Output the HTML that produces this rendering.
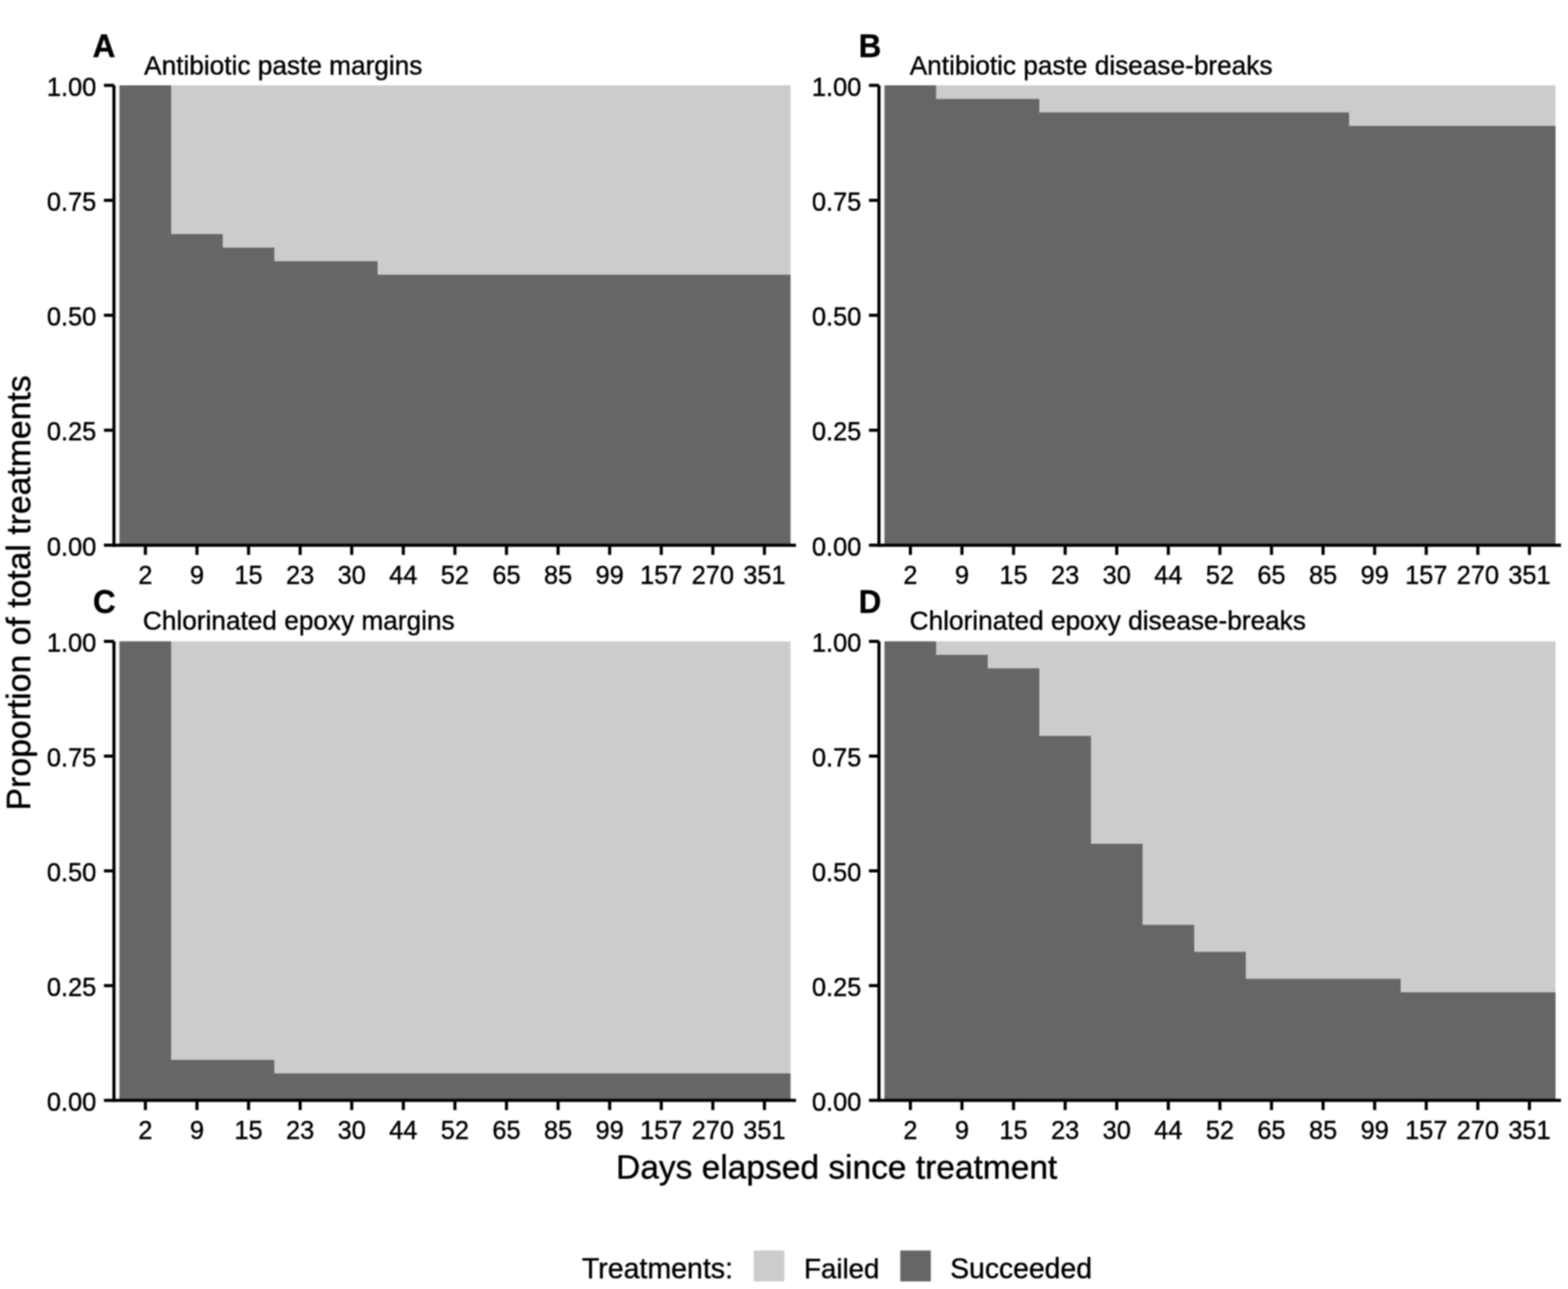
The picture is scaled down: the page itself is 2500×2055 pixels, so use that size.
<!DOCTYPE html>
<html><head><meta charset="utf-8"><title>Treatment outcomes</title>
<style>
html,body{margin:0;padding:0;background:#fff;}
body{width:2500px;height:2055px;overflow:hidden;}
svg{display:block;}
#w{filter:blur(1px);width:2500px;height:2055px;}
text{font-family:"Liberation Sans",Arial,sans-serif;fill:#000;stroke:#000;stroke-width:0.6px;}
.t{font-size:40.5px;}
.pt{font-size:41.8px;}
.at{font-size:53.4px;}
.lg{font-size:45.5px;}
.lt{font-size:50px;font-weight:bold;}
</style></head>
<body>
<div id="w">
<svg width="2500" height="2055" viewBox="0 0 2500 2055">
<rect width="2500" height="2055" fill="#fff"/>
<rect x="190.5" y="136.1" width="1069.9" height="733.05" fill="#cccccc"/>
<path d="M190.5,869.15 L190.5,136.1 L272.8,136.1 L272.8,373.26 L355.1,373.26 L355.1,394.82 L437.4,394.82 L437.4,416.38 L519.7,416.38 L519.7,416.38 L602,416.38 L602,437.94 L684.3,437.94 L684.3,437.94 L766.6,437.94 L766.6,437.94 L848.9,437.94 L848.9,437.94 L931.2,437.94 L931.2,437.94 L1013.5,437.94 L1013.5,437.94 L1095.8,437.94 L1095.8,437.94 L1178.1,437.94 L1178.1,437.94 L1260.4,437.94 L1260.4,869.15 Z" fill="#666666"/>
<line x1="181.7" y1="136.1" x2="181.7" y2="871.65" stroke="#000" stroke-width="5.0"/>
<line x1="179.2" y1="869.15" x2="1269.2" y2="869.15" stroke="#000" stroke-width="5.0"/>
<line x1="165.7" y1="136.1" x2="181.7" y2="136.1" stroke="#000" stroke-width="5.0"/>
<text transform="translate(153.5,152.5) scale(1,1.03)" class="t" text-anchor="end">1.00</text>
<line x1="165.7" y1="319.36" x2="181.7" y2="319.36" stroke="#000" stroke-width="5.0"/>
<text transform="translate(153.5,335.76) scale(1,1.03)" class="t" text-anchor="end">0.75</text>
<line x1="165.7" y1="502.62" x2="181.7" y2="502.62" stroke="#000" stroke-width="5.0"/>
<text transform="translate(153.5,519.02) scale(1,1.03)" class="t" text-anchor="end">0.50</text>
<line x1="165.7" y1="685.89" x2="181.7" y2="685.89" stroke="#000" stroke-width="5.0"/>
<text transform="translate(153.5,702.29) scale(1,1.03)" class="t" text-anchor="end">0.25</text>
<line x1="165.7" y1="869.15" x2="181.7" y2="869.15" stroke="#000" stroke-width="5.0"/>
<text transform="translate(153.5,885.55) scale(1,1.03)" class="t" text-anchor="end">0.00</text>
<line x1="231.8" y1="869.15" x2="231.8" y2="884.65" stroke="#000" stroke-width="5.0"/>
<text transform="translate(231.8,931) scale(1,1.03)" class="t" text-anchor="middle">2</text>
<line x1="314.05" y1="869.15" x2="314.05" y2="884.65" stroke="#000" stroke-width="5.0"/>
<text transform="translate(314.05,931) scale(1,1.03)" class="t" text-anchor="middle">9</text>
<line x1="396.3" y1="869.15" x2="396.3" y2="884.65" stroke="#000" stroke-width="5.0"/>
<text transform="translate(396.3,931) scale(1,1.03)" class="t" text-anchor="middle">15</text>
<line x1="478.55" y1="869.15" x2="478.55" y2="884.65" stroke="#000" stroke-width="5.0"/>
<text transform="translate(478.55,931) scale(1,1.03)" class="t" text-anchor="middle">23</text>
<line x1="560.8" y1="869.15" x2="560.8" y2="884.65" stroke="#000" stroke-width="5.0"/>
<text transform="translate(560.8,931) scale(1,1.03)" class="t" text-anchor="middle">30</text>
<line x1="643.05" y1="869.15" x2="643.05" y2="884.65" stroke="#000" stroke-width="5.0"/>
<text transform="translate(643.05,931) scale(1,1.03)" class="t" text-anchor="middle">44</text>
<line x1="725.3" y1="869.15" x2="725.3" y2="884.65" stroke="#000" stroke-width="5.0"/>
<text transform="translate(725.3,931) scale(1,1.03)" class="t" text-anchor="middle">52</text>
<line x1="807.55" y1="869.15" x2="807.55" y2="884.65" stroke="#000" stroke-width="5.0"/>
<text transform="translate(807.55,931) scale(1,1.03)" class="t" text-anchor="middle">65</text>
<line x1="889.8" y1="869.15" x2="889.8" y2="884.65" stroke="#000" stroke-width="5.0"/>
<text transform="translate(889.8,931) scale(1,1.03)" class="t" text-anchor="middle">85</text>
<line x1="972.05" y1="869.15" x2="972.05" y2="884.65" stroke="#000" stroke-width="5.0"/>
<text transform="translate(972.05,931) scale(1,1.03)" class="t" text-anchor="middle">99</text>
<line x1="1054.3" y1="869.15" x2="1054.3" y2="884.65" stroke="#000" stroke-width="5.0"/>
<text transform="translate(1054.3,931) scale(1,1.03)" class="t" text-anchor="middle">157</text>
<line x1="1136.55" y1="869.15" x2="1136.55" y2="884.65" stroke="#000" stroke-width="5.0"/>
<text transform="translate(1136.55,931) scale(1,1.03)" class="t" text-anchor="middle">270</text>
<line x1="1218.8" y1="869.15" x2="1218.8" y2="884.65" stroke="#000" stroke-width="5.0"/>
<text transform="translate(1218.8,931) scale(1,1.03)" class="t" text-anchor="middle">351</text>
<text transform="translate(229.8,118.6) scale(1,1.03)" class="pt">Antibiotic paste margins</text>
<text transform="translate(147.8,90.6) scale(1,1.045)" class="lt">A</text>
<rect x="1410.2" y="136.1" width="1069.9" height="733.05" fill="#cccccc"/>
<path d="M1410.2,869.15 L1410.2,136.1 L1492.5,136.1 L1492.5,157.66 L1574.8,157.66 L1574.8,157.66 L1657.1,157.66 L1657.1,179.22 L1739.4,179.22 L1739.4,179.22 L1821.7,179.22 L1821.7,179.22 L1904,179.22 L1904,179.22 L1986.3,179.22 L1986.3,179.22 L2068.6,179.22 L2068.6,179.22 L2150.9,179.22 L2150.9,200.78 L2233.2,200.78 L2233.2,200.78 L2315.5,200.78 L2315.5,200.78 L2397.8,200.78 L2397.8,200.78 L2480.1,200.78 L2480.1,869.15 Z" fill="#666666"/>
<line x1="1401.4" y1="136.1" x2="1401.4" y2="871.65" stroke="#000" stroke-width="5.0"/>
<line x1="1398.9" y1="869.15" x2="2488.9" y2="869.15" stroke="#000" stroke-width="5.0"/>
<line x1="1385.4" y1="136.1" x2="1401.4" y2="136.1" stroke="#000" stroke-width="5.0"/>
<text transform="translate(1373.2,152.5) scale(1,1.03)" class="t" text-anchor="end">1.00</text>
<line x1="1385.4" y1="319.36" x2="1401.4" y2="319.36" stroke="#000" stroke-width="5.0"/>
<text transform="translate(1373.2,335.76) scale(1,1.03)" class="t" text-anchor="end">0.75</text>
<line x1="1385.4" y1="502.62" x2="1401.4" y2="502.62" stroke="#000" stroke-width="5.0"/>
<text transform="translate(1373.2,519.02) scale(1,1.03)" class="t" text-anchor="end">0.50</text>
<line x1="1385.4" y1="685.89" x2="1401.4" y2="685.89" stroke="#000" stroke-width="5.0"/>
<text transform="translate(1373.2,702.29) scale(1,1.03)" class="t" text-anchor="end">0.25</text>
<line x1="1385.4" y1="869.15" x2="1401.4" y2="869.15" stroke="#000" stroke-width="5.0"/>
<text transform="translate(1373.2,885.55) scale(1,1.03)" class="t" text-anchor="end">0.00</text>
<line x1="1451.5" y1="869.15" x2="1451.5" y2="884.65" stroke="#000" stroke-width="5.0"/>
<text transform="translate(1451.5,931) scale(1,1.03)" class="t" text-anchor="middle">2</text>
<line x1="1533.75" y1="869.15" x2="1533.75" y2="884.65" stroke="#000" stroke-width="5.0"/>
<text transform="translate(1533.75,931) scale(1,1.03)" class="t" text-anchor="middle">9</text>
<line x1="1616" y1="869.15" x2="1616" y2="884.65" stroke="#000" stroke-width="5.0"/>
<text transform="translate(1616,931) scale(1,1.03)" class="t" text-anchor="middle">15</text>
<line x1="1698.25" y1="869.15" x2="1698.25" y2="884.65" stroke="#000" stroke-width="5.0"/>
<text transform="translate(1698.25,931) scale(1,1.03)" class="t" text-anchor="middle">23</text>
<line x1="1780.5" y1="869.15" x2="1780.5" y2="884.65" stroke="#000" stroke-width="5.0"/>
<text transform="translate(1780.5,931) scale(1,1.03)" class="t" text-anchor="middle">30</text>
<line x1="1862.75" y1="869.15" x2="1862.75" y2="884.65" stroke="#000" stroke-width="5.0"/>
<text transform="translate(1862.75,931) scale(1,1.03)" class="t" text-anchor="middle">44</text>
<line x1="1945" y1="869.15" x2="1945" y2="884.65" stroke="#000" stroke-width="5.0"/>
<text transform="translate(1945,931) scale(1,1.03)" class="t" text-anchor="middle">52</text>
<line x1="2027.25" y1="869.15" x2="2027.25" y2="884.65" stroke="#000" stroke-width="5.0"/>
<text transform="translate(2027.25,931) scale(1,1.03)" class="t" text-anchor="middle">65</text>
<line x1="2109.5" y1="869.15" x2="2109.5" y2="884.65" stroke="#000" stroke-width="5.0"/>
<text transform="translate(2109.5,931) scale(1,1.03)" class="t" text-anchor="middle">85</text>
<line x1="2191.75" y1="869.15" x2="2191.75" y2="884.65" stroke="#000" stroke-width="5.0"/>
<text transform="translate(2191.75,931) scale(1,1.03)" class="t" text-anchor="middle">99</text>
<line x1="2274" y1="869.15" x2="2274" y2="884.65" stroke="#000" stroke-width="5.0"/>
<text transform="translate(2274,931) scale(1,1.03)" class="t" text-anchor="middle">157</text>
<line x1="2356.25" y1="869.15" x2="2356.25" y2="884.65" stroke="#000" stroke-width="5.0"/>
<text transform="translate(2356.25,931) scale(1,1.03)" class="t" text-anchor="middle">270</text>
<line x1="2438.5" y1="869.15" x2="2438.5" y2="884.65" stroke="#000" stroke-width="5.0"/>
<text transform="translate(2438.5,931) scale(1,1.03)" class="t" text-anchor="middle">351</text>
<text transform="translate(1450.4,118.6) scale(1,1.03)" class="pt">Antibiotic paste disease-breaks</text>
<text transform="translate(1369,90.75) scale(1,1.045)" class="lt">B</text>
<rect x="190.5" y="1022.5" width="1069.9" height="731.75" fill="#cccccc"/>
<path d="M190.5,1754.25 L190.5,1022.5 L272.8,1022.5 L272.8,1689.68 L355.1,1689.68 L355.1,1689.68 L437.4,1689.68 L437.4,1711.21 L519.7,1711.21 L519.7,1711.21 L602,1711.21 L602,1711.21 L684.3,1711.21 L684.3,1711.21 L766.6,1711.21 L766.6,1711.21 L848.9,1711.21 L848.9,1711.21 L931.2,1711.21 L931.2,1711.21 L1013.5,1711.21 L1013.5,1711.21 L1095.8,1711.21 L1095.8,1711.21 L1178.1,1711.21 L1178.1,1711.21 L1260.4,1711.21 L1260.4,1754.25 Z" fill="#666666"/>
<line x1="181.7" y1="1022.5" x2="181.7" y2="1756.75" stroke="#000" stroke-width="5.0"/>
<line x1="179.2" y1="1754.25" x2="1269.2" y2="1754.25" stroke="#000" stroke-width="5.0"/>
<line x1="165.7" y1="1022.5" x2="181.7" y2="1022.5" stroke="#000" stroke-width="5.0"/>
<text transform="translate(153.5,1038.9) scale(1,1.03)" class="t" text-anchor="end">1.00</text>
<line x1="165.7" y1="1205.44" x2="181.7" y2="1205.44" stroke="#000" stroke-width="5.0"/>
<text transform="translate(153.5,1221.84) scale(1,1.03)" class="t" text-anchor="end">0.75</text>
<line x1="165.7" y1="1388.38" x2="181.7" y2="1388.38" stroke="#000" stroke-width="5.0"/>
<text transform="translate(153.5,1404.78) scale(1,1.03)" class="t" text-anchor="end">0.50</text>
<line x1="165.7" y1="1571.31" x2="181.7" y2="1571.31" stroke="#000" stroke-width="5.0"/>
<text transform="translate(153.5,1587.71) scale(1,1.03)" class="t" text-anchor="end">0.25</text>
<line x1="165.7" y1="1754.25" x2="181.7" y2="1754.25" stroke="#000" stroke-width="5.0"/>
<text transform="translate(153.5,1770.65) scale(1,1.03)" class="t" text-anchor="end">0.00</text>
<line x1="231.8" y1="1754.25" x2="231.8" y2="1769.75" stroke="#000" stroke-width="5.0"/>
<text transform="translate(231.8,1816.1) scale(1,1.03)" class="t" text-anchor="middle">2</text>
<line x1="314.05" y1="1754.25" x2="314.05" y2="1769.75" stroke="#000" stroke-width="5.0"/>
<text transform="translate(314.05,1816.1) scale(1,1.03)" class="t" text-anchor="middle">9</text>
<line x1="396.3" y1="1754.25" x2="396.3" y2="1769.75" stroke="#000" stroke-width="5.0"/>
<text transform="translate(396.3,1816.1) scale(1,1.03)" class="t" text-anchor="middle">15</text>
<line x1="478.55" y1="1754.25" x2="478.55" y2="1769.75" stroke="#000" stroke-width="5.0"/>
<text transform="translate(478.55,1816.1) scale(1,1.03)" class="t" text-anchor="middle">23</text>
<line x1="560.8" y1="1754.25" x2="560.8" y2="1769.75" stroke="#000" stroke-width="5.0"/>
<text transform="translate(560.8,1816.1) scale(1,1.03)" class="t" text-anchor="middle">30</text>
<line x1="643.05" y1="1754.25" x2="643.05" y2="1769.75" stroke="#000" stroke-width="5.0"/>
<text transform="translate(643.05,1816.1) scale(1,1.03)" class="t" text-anchor="middle">44</text>
<line x1="725.3" y1="1754.25" x2="725.3" y2="1769.75" stroke="#000" stroke-width="5.0"/>
<text transform="translate(725.3,1816.1) scale(1,1.03)" class="t" text-anchor="middle">52</text>
<line x1="807.55" y1="1754.25" x2="807.55" y2="1769.75" stroke="#000" stroke-width="5.0"/>
<text transform="translate(807.55,1816.1) scale(1,1.03)" class="t" text-anchor="middle">65</text>
<line x1="889.8" y1="1754.25" x2="889.8" y2="1769.75" stroke="#000" stroke-width="5.0"/>
<text transform="translate(889.8,1816.1) scale(1,1.03)" class="t" text-anchor="middle">85</text>
<line x1="972.05" y1="1754.25" x2="972.05" y2="1769.75" stroke="#000" stroke-width="5.0"/>
<text transform="translate(972.05,1816.1) scale(1,1.03)" class="t" text-anchor="middle">99</text>
<line x1="1054.3" y1="1754.25" x2="1054.3" y2="1769.75" stroke="#000" stroke-width="5.0"/>
<text transform="translate(1054.3,1816.1) scale(1,1.03)" class="t" text-anchor="middle">157</text>
<line x1="1136.55" y1="1754.25" x2="1136.55" y2="1769.75" stroke="#000" stroke-width="5.0"/>
<text transform="translate(1136.55,1816.1) scale(1,1.03)" class="t" text-anchor="middle">270</text>
<line x1="1218.8" y1="1754.25" x2="1218.8" y2="1769.75" stroke="#000" stroke-width="5.0"/>
<text transform="translate(1218.8,1816.1) scale(1,1.03)" class="t" text-anchor="middle">351</text>
<text transform="translate(227.8,1003.7) scale(1,1.03)" class="pt">Chlorinated epoxy margins</text>
<text transform="translate(148.2,976.6) scale(1,1.045)" class="lt">C</text>
<rect x="1410.2" y="1022.5" width="1069.9" height="731.75" fill="#cccccc"/>
<path d="M1410.2,1754.25 L1410.2,1022.5 L1492.5,1022.5 L1492.5,1044.02 L1574.8,1044.02 L1574.8,1065.54 L1657.1,1065.54 L1657.1,1173.15 L1739.4,1173.15 L1739.4,1345.33 L1821.7,1345.33 L1821.7,1474.46 L1904,1474.46 L1904,1517.51 L1986.3,1517.51 L1986.3,1560.55 L2068.6,1560.55 L2068.6,1560.55 L2150.9,1560.55 L2150.9,1560.55 L2233.2,1560.55 L2233.2,1582.07 L2315.5,1582.07 L2315.5,1582.07 L2397.8,1582.07 L2397.8,1582.07 L2480.1,1582.07 L2480.1,1754.25 Z" fill="#666666"/>
<line x1="1401.4" y1="1022.5" x2="1401.4" y2="1756.75" stroke="#000" stroke-width="5.0"/>
<line x1="1398.9" y1="1754.25" x2="2488.9" y2="1754.25" stroke="#000" stroke-width="5.0"/>
<line x1="1385.4" y1="1022.5" x2="1401.4" y2="1022.5" stroke="#000" stroke-width="5.0"/>
<text transform="translate(1373.2,1038.9) scale(1,1.03)" class="t" text-anchor="end">1.00</text>
<line x1="1385.4" y1="1205.44" x2="1401.4" y2="1205.44" stroke="#000" stroke-width="5.0"/>
<text transform="translate(1373.2,1221.84) scale(1,1.03)" class="t" text-anchor="end">0.75</text>
<line x1="1385.4" y1="1388.38" x2="1401.4" y2="1388.38" stroke="#000" stroke-width="5.0"/>
<text transform="translate(1373.2,1404.78) scale(1,1.03)" class="t" text-anchor="end">0.50</text>
<line x1="1385.4" y1="1571.31" x2="1401.4" y2="1571.31" stroke="#000" stroke-width="5.0"/>
<text transform="translate(1373.2,1587.71) scale(1,1.03)" class="t" text-anchor="end">0.25</text>
<line x1="1385.4" y1="1754.25" x2="1401.4" y2="1754.25" stroke="#000" stroke-width="5.0"/>
<text transform="translate(1373.2,1770.65) scale(1,1.03)" class="t" text-anchor="end">0.00</text>
<line x1="1451.5" y1="1754.25" x2="1451.5" y2="1769.75" stroke="#000" stroke-width="5.0"/>
<text transform="translate(1451.5,1816.1) scale(1,1.03)" class="t" text-anchor="middle">2</text>
<line x1="1533.75" y1="1754.25" x2="1533.75" y2="1769.75" stroke="#000" stroke-width="5.0"/>
<text transform="translate(1533.75,1816.1) scale(1,1.03)" class="t" text-anchor="middle">9</text>
<line x1="1616" y1="1754.25" x2="1616" y2="1769.75" stroke="#000" stroke-width="5.0"/>
<text transform="translate(1616,1816.1) scale(1,1.03)" class="t" text-anchor="middle">15</text>
<line x1="1698.25" y1="1754.25" x2="1698.25" y2="1769.75" stroke="#000" stroke-width="5.0"/>
<text transform="translate(1698.25,1816.1) scale(1,1.03)" class="t" text-anchor="middle">23</text>
<line x1="1780.5" y1="1754.25" x2="1780.5" y2="1769.75" stroke="#000" stroke-width="5.0"/>
<text transform="translate(1780.5,1816.1) scale(1,1.03)" class="t" text-anchor="middle">30</text>
<line x1="1862.75" y1="1754.25" x2="1862.75" y2="1769.75" stroke="#000" stroke-width="5.0"/>
<text transform="translate(1862.75,1816.1) scale(1,1.03)" class="t" text-anchor="middle">44</text>
<line x1="1945" y1="1754.25" x2="1945" y2="1769.75" stroke="#000" stroke-width="5.0"/>
<text transform="translate(1945,1816.1) scale(1,1.03)" class="t" text-anchor="middle">52</text>
<line x1="2027.25" y1="1754.25" x2="2027.25" y2="1769.75" stroke="#000" stroke-width="5.0"/>
<text transform="translate(2027.25,1816.1) scale(1,1.03)" class="t" text-anchor="middle">65</text>
<line x1="2109.5" y1="1754.25" x2="2109.5" y2="1769.75" stroke="#000" stroke-width="5.0"/>
<text transform="translate(2109.5,1816.1) scale(1,1.03)" class="t" text-anchor="middle">85</text>
<line x1="2191.75" y1="1754.25" x2="2191.75" y2="1769.75" stroke="#000" stroke-width="5.0"/>
<text transform="translate(2191.75,1816.1) scale(1,1.03)" class="t" text-anchor="middle">99</text>
<line x1="2274" y1="1754.25" x2="2274" y2="1769.75" stroke="#000" stroke-width="5.0"/>
<text transform="translate(2274,1816.1) scale(1,1.03)" class="t" text-anchor="middle">157</text>
<line x1="2356.25" y1="1754.25" x2="2356.25" y2="1769.75" stroke="#000" stroke-width="5.0"/>
<text transform="translate(2356.25,1816.1) scale(1,1.03)" class="t" text-anchor="middle">270</text>
<line x1="2438.5" y1="1754.25" x2="2438.5" y2="1769.75" stroke="#000" stroke-width="5.0"/>
<text transform="translate(2438.5,1816.1) scale(1,1.03)" class="t" text-anchor="middle">351</text>
<text transform="translate(1450.3,1003.7) scale(1,1.03)" class="pt">Chlorinated epoxy disease-breaks</text>
<text transform="translate(1369,976.75) scale(1,1.045)" class="lt">D</text>
<text x="1334" y="1879" class="at" text-anchor="middle">Days elapsed since treatment</text>
<text transform="translate(48.2,945.2) rotate(-90)" x="0" y="0" class="at" style="font-size:53.8px" text-anchor="middle">Proportion of total treatments</text>
<text transform="translate(927.7,2037.8) scale(1,1.02)" class="lg">Treatments:</text>
<rect x="1201.8" y="1993.6" width="48.7" height="49.3" fill="#cccccc"/>
<text transform="translate(1282,2037.8) scale(1,1.02)" class="lg" style="font-size:44.1px">Failed</text>
<rect x="1435.4" y="1993.6" width="48.7" height="49.3" fill="#666666"/>
<text transform="translate(1514.9,2037.8) scale(1,1.02)" class="lg" style="font-size:45.2px">Succeeded</text>
</svg>
</div>
</body></html>
